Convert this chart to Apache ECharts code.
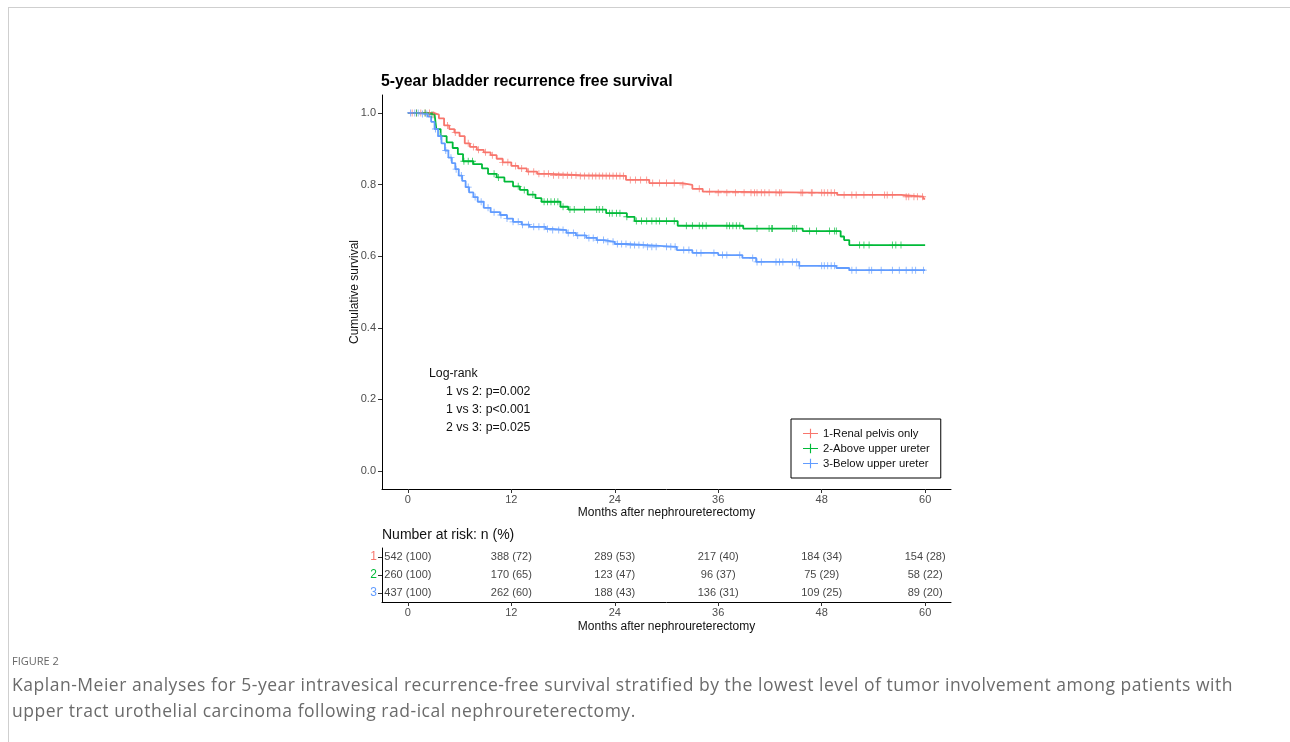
<!DOCTYPE html>
<html>
<head>
<meta charset="utf-8">
<script src="https://cdn.jsdelivr.net/npm/echarts@6/dist/echarts.min.js"></script>
<style>
  html, body { margin: 0; padding: 0; background: #fff; }
  #frame { position: absolute; left: 8px; top: 7px; width: 1290px; height: 760px;
           border-left: 1px solid #cfcfcf; border-top: 1px solid #cfcfcf; }
  #chart { position: absolute; left: 0; top: 0; width: 1290px; height: 742px; }
  #fig { position: absolute; left: 12px; top: 653px; font-family: "Open Sans", sans-serif;
         font-size: 11px; color: #666; }
  #cap { position: absolute; left: 12px; top: 671px; font-family: "Open Sans", sans-serif;
         font-size: 17.5px; letter-spacing: 0.52px; line-height: 26px; color: #6b6b6b; white-space: nowrap; }
</style>
</head>
<body>
<div id="frame"></div>
<div id="chart"></div>
<div id="fig">FIGURE 2</div>
<div id="cap">Kaplan-Meier analyses for 5-year intravesical recurrence-free survival stratified by the lowest level of tumor involvement among patients with<br>upper tract urothelial carcinoma following rad-ical nephroureterectomy.</div>
<script>
// 分组名称与颜色
const groups = ['1-Renal pelvis only', '2-Above upper ureter', '3-Below upper ureter'];
const colors = ['#F8766D', '#00BA38', '#619CFF'];

// KM 阶梯曲线 [月份, 生存率]
const kmRenal = [[0,1],[3.0,0.995],[3.6,0.985],[4.2,0.965],[4.8,0.955],[5.4,0.945],[6.0,0.935],[6.6,0.915],
  [7.2,0.905],[8.0,0.897],[8.8,0.89],[9.6,0.882],[10.3,0.872],[11.0,0.862],[12.0,0.852],[12.8,0.845],
  [13.8,0.836],[15.0,0.83],[16.5,0.826],[20.0,0.824],[25.3,0.813],[28.0,0.804],[31.8,0.799],[33.0,0.788],
  [34.2,0.780],[36.0,0.777],[49.8,0.771],[57.2,0.766],[59.8,0.760],[60,0.760]];
const kmAbove = [[0,1],[2.3,0.995],[3.1,0.99],[3.3,0.955],[3.8,0.935],[4.5,0.918],[5.2,0.902],[5.8,0.885],
  [6.4,0.865],[7.6,0.857],[8.6,0.845],[9.3,0.83],[10.3,0.82],[11.2,0.808],[12.2,0.795],[13.0,0.785],
  [13.9,0.772],[14.8,0.762],[15.5,0.752],[17.7,0.738],[18.6,0.73],[23.0,0.72],[25.4,0.71],[26.3,0.698],
  [31.3,0.685],[38.9,0.677],[45.8,0.670],[50.2,0.655],[50.6,0.645],[51.2,0.631],[60,0.631]];
const kmBelow = [[0,1],[1.5,0.997],[2.3,0.99],[2.7,0.975],[3.1,0.955],[3.5,0.935],[3.9,0.915],[4.3,0.895],
  [4.7,0.875],[5.1,0.86],[5.5,0.843],[5.9,0.825],[6.3,0.81],[6.7,0.793],[7.1,0.778],[7.6,0.765],
  [8.1,0.752],[8.8,0.735],[9.6,0.723],[10.7,0.715],[11.5,0.705],[12.2,0.696],[13.2,0.688],[14.1,0.682],
  [16.0,0.676],[16.8,0.673],[18.4,0.665],[19.5,0.658],[20.7,0.651],[21.9,0.645],[22.8,0.640],[24.0,0.634],
  [25.4,0.631],[27.7,0.626],[31.2,0.617],[33.0,0.609],[36.0,0.603],[38.8,0.595],[40.4,0.584],[45.4,0.573],
  [49.7,0.567],[51.2,0.561],[60,0.561]];

// 删失时间（月）
const censRenal = [0.5,1.0,1.5,2.0,2.5,3.0,4.6,5.5,7.0,7.6,8.2,9.0,9.8,11.0,11.6,12.5,13.2,14.0,14.6,15.2,
  15.8,16.3,16.9,17.5,18.0,18.5,19.0,19.5,20.0,20.5,21.0,21.4,21.8,22.2,22.6,23.0,23.4,23.8,24.2,24.6,25.0,
  25.8,26.4,27.0,27.7,28.4,29.2,30.0,30.9,31.9,33.8,35.0,36.0,37.0,38.0,39.0,39.8,40.2,40.5,41.0,41.4,41.9,
  42.7,43.1,43.3,45.6,45.8,46.8,46.9,48.0,48.3,48.7,49.1,49.5,50.6,51.5,52.0,52.9,53.9,55.3,55.6,56.2,
  57.8,58.1,58.7,59.1,59.7];
const censAbove = [1.0,2.0,2.8,6.5,7.0,7.5,10.0,10.5,12.8,13.5,14.5,15.8,16.2,16.6,17.0,17.4,18.0,18.8,19.3,
  20.5,21.9,22.2,22.6,23.4,23.7,24.2,24.6,25.4,26.5,27.1,27.7,28.3,28.8,29.2,30.0,30.9,32.3,33.0,33.8,34.2,
  34.6,37.0,37.3,37.7,38.1,38.5,40.5,41.9,42.2,42.3,44.6,44.8,45.1,46.6,47.4,48.9,49.5,49.7,52.4,52.9,
  53.5,56.2,56.6,57.2];
const censBelow = [0.3,0.8,1.2,1.7,2.2,3.2,3.8,4.4,5.0,5.6,6.2,7.0,7.8,8.5,9.3,10.0,10.8,11.5,12.2,12.8,13.3,
  14.0,14.6,15.2,15.8,16.2,16.8,17.5,18.0,18.6,19.2,19.7,20.5,21.0,21.5,22.0,22.7,23.2,23.8,24.3,24.8,25.3,
  25.8,26.3,26.8,27.3,27.8,28.3,28.8,30.0,30.5,31.0,32.0,32.6,33.5,34.0,35.5,36.5,37.0,38.5,40.0,40.5,41.0,
  42.7,43.1,43.5,44.6,45.1,45.4,48.0,48.3,48.7,49.1,49.5,51.5,52.0,53.5,53.8,54.9,56.2,57.0,57.8,58.5,
  58.9,59.8];

// 风险人数表
const riskMonths = [0, 12, 24, 36, 48, 60];
const riskN = [[542,388,289,217,184,154],[260,170,123,96,75,58],[437,262,188,136,109,89]];
const riskPct = [[100,72,53,40,34,28],[100,65,47,37,29,22],[100,60,43,31,25,20]];
const riskRows = ['1', '2', '3'];

const xTicks = [0, 12, 24, 36, 48, 60];
const yTicks = [0, 0.2, 0.4, 0.6, 0.8, 1.0];

const curves = [kmRenal, kmAbove, kmBelow];
const censors = [censRenal, censAbove, censBelow];

// 取某时间点所在阶梯的生存率
function survAt(km, t) {
  let s = km[0][1];
  for (const p of km) { if (p[0] <= t) s = p[1]; else break; }
  return s;
}

const plusPath = 'path://M0,4.4H10V5.6H0Z M4.4,0H5.6V10H4.4Z';
const legendIcon = 'path://M0,4.4H16V5.6H0Z M7.4,0H8.6V10H7.4Z';
const FONT = '"Liberation Sans", Arial, sans-serif';

const axisCommon = {
  axisLine: { show: true, onZero: false, lineStyle: { color: '#000', width: 1 } },
  axisTick: { show: true, lineStyle: { color: '#333' }, length: 4 },
  splitLine: { show: false },
  axisLabel: { color: '#4d4d4d', fontSize: 11, fontFamily: FONT }
};

const series = [];
curves.forEach((km, i) => {
  series.push({
    name: groups[i], type: 'line', step: 'end', data: km, showSymbol: false,
    xAxisIndex: 0, yAxisIndex: 0, z: 3,
    lineStyle: { color: colors[i], width: 1.8 }, itemStyle: { color: colors[i] }
  });
  series.push({
    type: 'scatter', xAxisIndex: 0, yAxisIndex: 0, symbol: plusPath, symbolSize: 7, z: 4,
    itemStyle: { color: colors[i] },
    data: censors[i].map(t => [t, survAt(km, t)])
  });
});

// 风险表文字
const tableData = [];
riskN.forEach((row, r) => {
  row.forEach((n, j) => {
    tableData.push({ value: [riskMonths[j], riskRows[r]], label: { formatter: n + ' (' + riskPct[r][j] + ')' } });
  });
});
series.push({
  type: 'scatter', xAxisIndex: 1, yAxisIndex: 1, symbolSize: 0, data: tableData,
  label: { show: true, position: 'inside', color: '#111', fontSize: 11, fontFamily: FONT }
});

function xAxisFor(idx, gap) {
  return Object.assign({}, axisCommon, {
    type: 'value', gridIndex: idx, min: -3, max: 63,
    axisTick: Object.assign({}, axisCommon.axisTick, { customValues: xTicks }),
    axisLabel: Object.assign({}, axisCommon.axisLabel, { customValues: xTicks, margin: 5 }),
    name: 'Months after nephroureterectomy', nameLocation: 'middle', nameGap: gap, nameMoveOverlap: false,
    nameTextStyle: { fontSize: 12, color: '#111', fontFamily: FONT }
  });
}

const chart = echarts.init(document.getElementById('chart'));
chart.setOption({
  animation: false,
  textStyle: { fontFamily: FONT },
  grid: [
    { left: 382, top: 95, right: 339, bottom: 253 },
    { left: 382, top: 548, right: 339, bottom: 140 }
  ],
  graphic: [
    { type: 'text', left: 381, top: 74, style: { text: '5-year bladder recurrence free survival', font: 'bold 15.8px ' + FONT, fill: '#000' } },
    { type: 'text', left: 429, top: 368, style: { text: 'Log-rank', font: '12.3px ' + FONT, fill: '#111' } },
    { type: 'text', left: 446, top: 386, style: { text: '1 vs 2: p=0.002', font: '12.3px ' + FONT, fill: '#111' } },
    { type: 'text', left: 446, top: 404, style: { text: '1 vs 3: p<0.001', font: '12.3px ' + FONT, fill: '#111' } },
    { type: 'text', left: 446, top: 422, style: { text: '2 vs 3: p=0.025', font: '12.3px ' + FONT, fill: '#111' } },
    { type: 'text', left: 382, top: 528, style: { text: 'Number at risk: n (%)', font: '14px ' + FONT, fill: '#111' } }
  ],
  legend: {
    orient: 'vertical', left: 791, top: 419, padding: [9, 11, 9, 12],
    borderColor: '#000', borderWidth: 1, itemGap: 4, itemWidth: 15, itemHeight: 10,
    textStyle: { fontSize: 11.3, color: '#111', fontFamily: FONT },
    data: groups.map(g => ({ name: g, icon: legendIcon }))
  },
  xAxis: [xAxisFor(0, 18), xAxisFor(1, 19)],
  yAxis: [
    Object.assign({}, axisCommon, {
      type: 'value', gridIndex: 0, min: -0.05, max: 1.05,
      axisTick: Object.assign({}, axisCommon.axisTick, { customValues: yTicks }),
      axisLabel: Object.assign({}, axisCommon.axisLabel, { customValues: yTicks, margin: 6, formatter: v => v.toFixed(1) }),
      name: 'Cumulative survival', nameLocation: 'middle', nameGap: 21.5, nameMoveOverlap: false,
      nameTextStyle: { fontSize: 12, color: '#111', fontFamily: FONT }
    }),
    Object.assign({}, axisCommon, {
      type: 'category', gridIndex: 1, data: riskRows, inverse: true,
      axisTick: { show: true, alignWithLabel: true, length: 4, lineStyle: { color: '#333' } },
      axisLabel: { margin: 5, fontSize: 12, fontFamily: FONT,
        color: (v, idx) => colors[riskRows.indexOf(v)] }
    })
  ],
  series: series
});
</script>
</body>
</html>
